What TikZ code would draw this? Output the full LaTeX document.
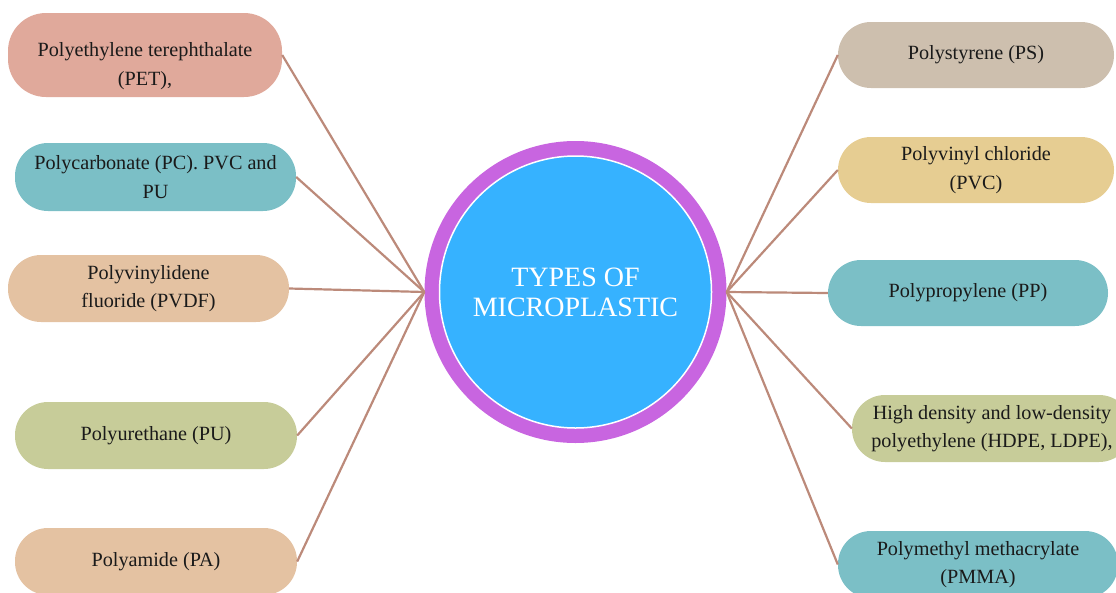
\documentclass[tikz,border=0pt]{standalone}
\usepackage{fontspec}
\setmainfont{Liberation Serif}
\definecolor{linec}{HTML}{BC8A7A}
\definecolor{salmon}{HTML}{E0A99B}
\definecolor{teal}{HTML}{7BBFC6}
\definecolor{tan}{HTML}{E4C2A2}
\definecolor{green}{HTML}{C7CC99}
\definecolor{stone}{HTML}{CDBFAE}
\definecolor{sand}{HTML}{E6CD92}
\definecolor{ringc}{HTML}{C865E0}
\definecolor{bluec}{HTML}{36B2FF}
\definecolor{txt}{HTML}{1A1A1A}
\begin{document}
\begin{tikzpicture}[x=1pt,y=-1pt,
  box/.style={rounded corners=33pt, minimum height=67pt, align=center, inner sep=0pt,
    text=txt, font=\fontsize{20.2}{28.5}\selectfont},
  conn/.style={draw=linec, line width=2.2pt}]
\useasboundingbox (0,0) rectangle (1116,592);
% centre
\node[circle, fill=ringc, minimum size=302pt, inner sep=0pt] (ring) at (575.5,292) {};
\node[circle, fill=bluec, draw=white, line width=1.5pt, minimum size=272pt, inner sep=0pt,
  align=center, text=white, font=\fontsize{28}{30}\selectfont] (c) at (575.5,292) {TYPES OF\\MICROPLASTIC};
% left boxes
\node[box, fill=salmon, minimum width=274pt, minimum height=84pt, rounded corners=38pt] (pet) at (145,55) {};
\node[align=center, text=txt, font=\fontsize{20.2}{28.5}\selectfont, inner sep=0pt] (petT) at (145,66) {Polyethylene terephthalate\\(PET),};
\node[box, fill=teal, minimum width=281pt, minimum height=68pt] (pc) at (155.5,177) {Polycarbonate (PC). PVC and\\PU};
\node[box, fill=tan, minimum width=281pt] (pvdf) at (148.5,288.5) {Polyvinylidene\\fluoride (PVDF)};
\node[box, fill=green, minimum width=282pt] (pu) at (156,435.5) {Polyurethane (PU)};
\node[box, fill=tan, minimum width=282pt] (pa) at (156,561.5) {Polyamide (PA)};
% right boxes
\node[box, fill=stone, minimum width=276pt, minimum height=66pt] (ps) at (976,55) {Polystyrene (PS)};
\node[box, fill=sand, minimum width=276pt, minimum height=66pt] (pvc) at (976,170) {Polyvinyl chloride\\(PVC)};
\node[box, fill=teal, minimum width=280pt, minimum height=66pt] (pp) at (968,293) {Polypropylene (PP)};
\node[box, fill=green, minimum width=280pt] (hdpe) at (992,428.5) {High density and low-density\\polyethylene (HDPE, LDPE),};
\node[box, fill=teal, minimum width=280pt] (pmma) at (978,564.5) {Polymethyl methacrylate\\(PMMA)};
% connectors
\foreach \b in {pet,pc,pvdf,pu,pa} \draw[conn] (ring.west) -- (\b.east);
\foreach \b in {ps,pvc,pp,hdpe,pmma} \draw[conn] (ring.east) -- (\b.west);
\end{tikzpicture}
\end{document}
